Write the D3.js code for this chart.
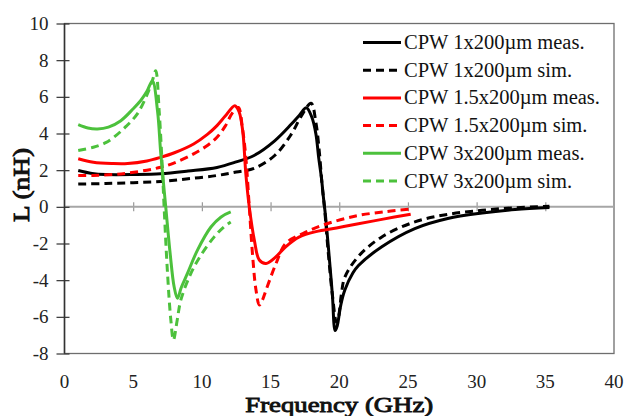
<!DOCTYPE html>
<html><head><meta charset="utf-8">
<script src="https://cdn.jsdelivr.net/npm/d3@7"></script>
<style>
html,body{margin:0;padding:0;background:#fff;}
svg{display:block;}
</style></head>
<body>
<svg id="chart" width="629" height="416"></svg>
<script>
// ---- data (frequency GHz, inductance nH) ----
const xTicks = [0, 5, 10, 15, 20, 25, 30, 35, 40];
const yTicks = [-8, -6, -4, -2, 0, 2, 4, 6, 8, 10];
const seriesNames = ["CPW 1x200\u00b5m meas.", "CPW 1x200\u00b5m sim.", "CPW 1.5x200\u00b5m meas.", "CPW 1.5x200\u00b5m sim.", "CPW 3x200\u00b5m meas.", "CPW 3x200\u00b5m sim."];

const cpw1Meas = [[1.0,1.98],[2,1.82],[3,1.76],[5,1.76],[7,1.8],[9,1.95],[11.1,2.15],[12.5,2.45],[13.8,2.8],[15.3,3.6],[16.5,4.5],[17.1,5.0],[17.6,5.4],[18.0,4.9],[18.3,3.98],[18.5,2.7],[18.7,1.6],[18.85,0.5],[19.0,-0.5],[19.3,-3.0],[19.5,-4.8],[19.7,-6.75],[19.85,-6.5],[20.1,-5.4],[20.4,-4.55],[21.0,-3.6],[21.4,-3.2],[23.1,-2.18],[25.5,-1.19],[27.9,-0.64],[30.4,-0.34],[32.8,-0.15],[35.3,-0.04]];
const cpw1Sim = [[1.0,1.24],[3,1.27],[5,1.32],[7,1.38],[9,1.53],[11.1,1.71],[12.5,1.9],[13.8,2.1],[15.3,2.8],[16.5,3.95],[17.2,4.9],[17.95,5.65],[18.3,4.6],[18.55,3.0],[18.75,1.2],[18.92,0],[19.2,-2.5],[19.5,-4.8],[19.8,-6.3],[19.95,-6.0],[20.15,-4.8],[20.4,-3.85],[21.4,-2.7],[23.1,-1.64],[25.5,-0.82],[27.9,-0.41],[30.4,-0.19],[32.8,-0.05],[35.3,0.03]];
const cpw15Meas = [[1.0,2.62],[2.1,2.43],[3.5,2.36],[4.6,2.36],[6,2.5],[7,2.7],[8,2.95],[9.4,3.43],[10.4,3.95],[11.1,4.43],[11.7,4.95],[12.4,5.52],[12.7,5.2],[12.97,4.16],[13.2,1.8],[13.45,0],[13.82,-1.82],[14.18,-2.9],[14.67,-3.09],[15.4,-2.72],[16.1,-2.18],[17.1,-1.64],[18.3,-1.35],[19.8,-1.15],[21.2,-0.95],[23.2,-0.67],[25.2,-0.4]];
const cpw15Sim = [[1.0,1.71],[2.1,1.71],[3.5,1.76],[4.6,1.84],[6,2.0],[7,2.16],[8,2.4],[9.4,2.89],[10.4,3.35],[11.1,3.8],[11.7,4.4],[12.2,5.1],[12.65,5.42],[12.95,4.3],[13.2,2.7],[13.45,0],[13.7,-2.72],[13.94,-4.54],[14.18,-5.35],[14.4,-5.1],[14.67,-4.54],[15.4,-3.09],[16.1,-2.0],[17.35,-1.46],[18.8,-1.0],[21.2,-0.5],[23.5,-0.25],[25.2,-0.12]];
const cpw3Meas = [[1.0,4.48],[1.7,4.3],[2.4,4.25],[3.2,4.35],[4.1,4.7],[5.0,5.35],[5.55,5.8],[6.0,6.3],[6.4,6.87],[6.77,5.24],[7.01,2.89],[7.37,0],[7.69,-2.54],[7.98,-4.36],[8.22,-4.99],[8.5,-4.4],[8.95,-3.63],[9.68,-2.36],[10.66,-1.1],[11.4,-0.55],[12.1,-0.28]];
const cpw3Sim = [[1.0,3.07],[2.1,3.25],[3.0,3.5],[3.6,3.8],[4.5,4.4],[5.3,5.07],[6.0,6.1],[6.4,6.9],[6.64,7.42],[6.89,5.24],[7.13,1.98],[7.25,0],[7.5,-3.63],[7.74,-6.17],[7.93,-7.26],[8.2,-6.2],[8.47,-5.08],[9.2,-3.63],[9.93,-2.64],[10.9,-1.64],[11.6,-1.1],[12.1,-0.83]];

const seriesData = [cpw1Meas, cpw1Sim, cpw15Meas, cpw15Sim, cpw3Meas, cpw3Sim];
const seriesColors = ["#000000", "#000000", "#ff0000", "#ff0000", "#4cc13c", "#4cc13c"];
const seriesDashed = [false, true, false, true, false, true];
const FONT = '"Liberation Serif", "Times New Roman", Tinos, Times';

// ---- layout ----
const svg = d3.select("#chart");
const pLeft = 64.5, pRight = 614, pTop = 23.5, pBottom = 353.5;
const x = d3.scaleLinear().domain([0, 40]).range([pLeft, pRight]);
const y = d3.scaleLinear().domain([-8, 10]).range([pBottom, pTop]);

// plot frame
svg.append("rect").attr("x", pLeft).attr("y", pTop).attr("width", pRight - pLeft).attr("height", pBottom - pTop)
  .attr("fill", "none").attr("stroke", "#6e6e6e").attr("stroke-width", 1.3);

// zero line with ticks
const xAxis = d3.axisBottom(x).tickValues(xTicks.slice(1, -1)).tickSize(9).tickFormat("");
const gx = svg.append("g").attr("transform", `translate(0,${y(0) - 4.5})`).call(xAxis);
gx.select(".domain").remove();
gx.selectAll(".tick line").attr("stroke", "#999").attr("stroke-width", 1.2);
svg.append("line").attr("x1", pLeft).attr("x2", pRight).attr("y1", y(0)).attr("y2", y(0))
  .attr("stroke", "#a6a6a6").attr("stroke-width", 2);

// y axis
const yAxis = d3.axisLeft(y).tickValues(yTicks).tickSize(13).tickPadding(8).tickFormat(d => String(d));
const gy = svg.append("g").attr("transform", `translate(${pLeft + 5},0)`).call(yAxis);
gy.attr("font-family", FONT);
gy.select(".domain").remove();
gy.selectAll(".tick line").attr("stroke", "#333").attr("stroke-width", 1.2);
gy.selectAll(".tick text").attr("font-size", 19).attr("fill", "#222").style("font-family", FONT);
svg.append("line").attr("x1", pLeft).attr("x2", pLeft).attr("y1", pTop).attr("y2", pBottom)
  .attr("stroke", "#333").attr("stroke-width", 1.5);

// x tick labels at bottom
svg.append("g").selectAll("text").data(xTicks).join("text")
  .attr("x", d => x(d)).attr("y", 387.5).attr("text-anchor", "middle")
  .attr("font-size", 19).attr("fill", "#222").style("font-family", FONT).text(d => d);

// series lines
seriesData.forEach((data, i) => {
  svg.append("path").datum(data).attr("d", d3.line().x(d => x(d[0])).y(d => y(d[1])).curve(d3.curveCatmullRom.alpha(0.5)))
    .attr("fill", "none").attr("stroke", seriesColors[i]).attr("stroke-width", 3)
    .attr("stroke-dasharray", seriesDashed[i] ? "8,5" : null)
    .attr("stroke-linejoin", "round");
});

// legend
const lg = svg.append("g");
seriesNames.forEach((name, i) => {
  const yy = 42.5 + i * 27.7;
  lg.append("line").attr("x1", 363).attr("x2", 401).attr("y1", yy).attr("y2", yy)
    .attr("stroke", seriesColors[i]).attr("stroke-width", 3)
    .attr("stroke-dasharray", seriesDashed[i] ? "8,5" : null);
  lg.append("text").attr("x", 404).attr("y", yy + 6.5).attr("font-size", 20.5).attr("fill", "#111")
    .style("font-family", FONT).text(name);
});

// axis titles (serif, emboldened with a thin stroke)
svg.append("text").attr("x", x(20)).attr("y", 411.5).attr("text-anchor", "middle")
  .attr("font-size", 22).attr("fill", "#111").attr("stroke", "#111").attr("stroke-width", 0.9)
  .attr("textLength", 188).attr("lengthAdjust", "spacingAndGlyphs")
  .style("font-family", FONT).text("Frequency (GHz)");
svg.append("text").attr("transform", `translate(29,185) rotate(-90)`).attr("text-anchor", "middle")
  .attr("font-size", 24).attr("fill", "#111").attr("stroke", "#111").attr("stroke-width", 0.9)
  .attr("textLength", 74).attr("lengthAdjust", "spacingAndGlyphs")
  .style("font-family", FONT).text("L (nH)");
</script>
</body></html>
